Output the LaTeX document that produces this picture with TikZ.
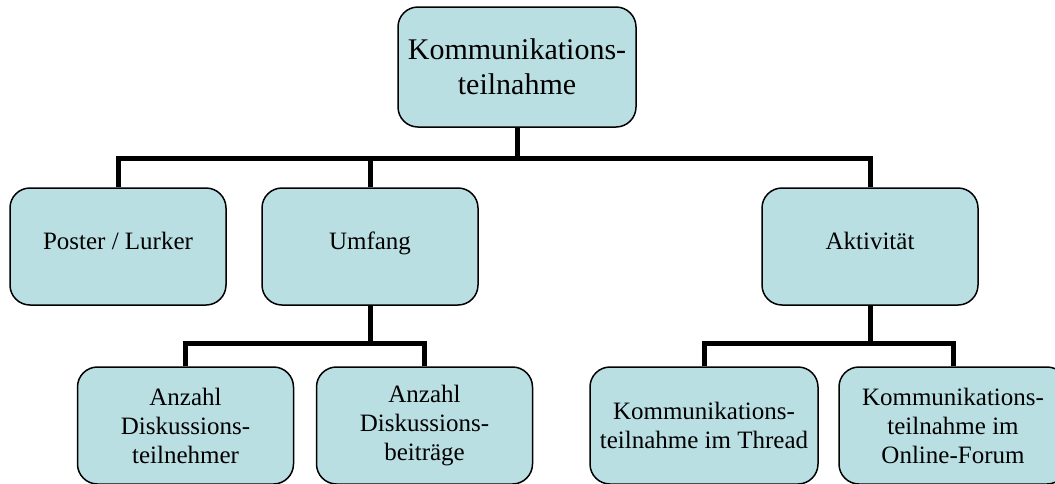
\documentclass[tikz,border=0pt]{standalone}
\usepackage{fontspec}
\setmainfont{Liberation Serif}
\usepackage{tikz}
\usetikzlibrary{calc,positioning}
\definecolor{boxfill}{RGB}{185,223,227}

\begin{document}
\begin{tikzpicture}[x=1pt,y=-1pt,
      box/.style={rectangle,rounded corners=20pt,draw=black,line width=1.5pt,fill=boxfill,
        align=center,inner sep=2pt,minimum width=216pt,minimum height=117pt,
        font=\fontsize{25}{29}\selectfont},
      topbox/.style={box,minimum width=238pt,minimum height=120pt,font=\fontsize{30}{35}\selectfont},
      wide/.style={box,minimum width=228pt},
      conn/.style={draw=black,line width=5pt}]
    \useasboundingbox (0,0) rectangle (1055,483);
    % top level
    \node[topbox] (komm) at (517,67) {Kommunikations-\\teilnahme};
    \coordinate (bar1) at (517,158);
    % second level
    \node[box] (poster) at (118,246.5) {\raisebox{12pt}{Poster / Lurker}};
    \node[box] (umfang) at (370,246.5) {\raisebox{12pt}{Umfang}};
    \node[box] (aktiv) at (870,246.5) {\raisebox{12pt}{Aktivit\"at}};
    \draw[conn] (komm.south) -- (bar1);
    \foreach \n in {poster,umfang,aktiv} \draw[conn] (\n.north) |- (bar1);
    % third level
    \coordinate (bar2) at (370,343);
    \coordinate (bar3) at (870,343);
    \node[box] (teiln) at (185.5,425.5) {Anzahl\\Diskussions-\\teilnehmer};
    \node[box] (beitr) at (424.5,425.5) {Anzahl\\Diskussions-\\beitr\"age};
    \node[wide] (thread) at (704,425.5) {Kommunikations-\\teilnahme im Thread};
    \node[wide] (forum) at (953,425.5) {Kommunikations-\\teilnahme im\\Online-Forum};
    \draw[conn] (umfang.south) -- (bar2);
    \foreach \n in {teiln,beitr} \draw[conn] (\n.north) |- (bar2);
    \draw[conn] (aktiv.south) -- (bar3);
    \foreach \n in {thread,forum} \draw[conn] (\n.north) |- (bar3);
\end{tikzpicture}
\end{document}
